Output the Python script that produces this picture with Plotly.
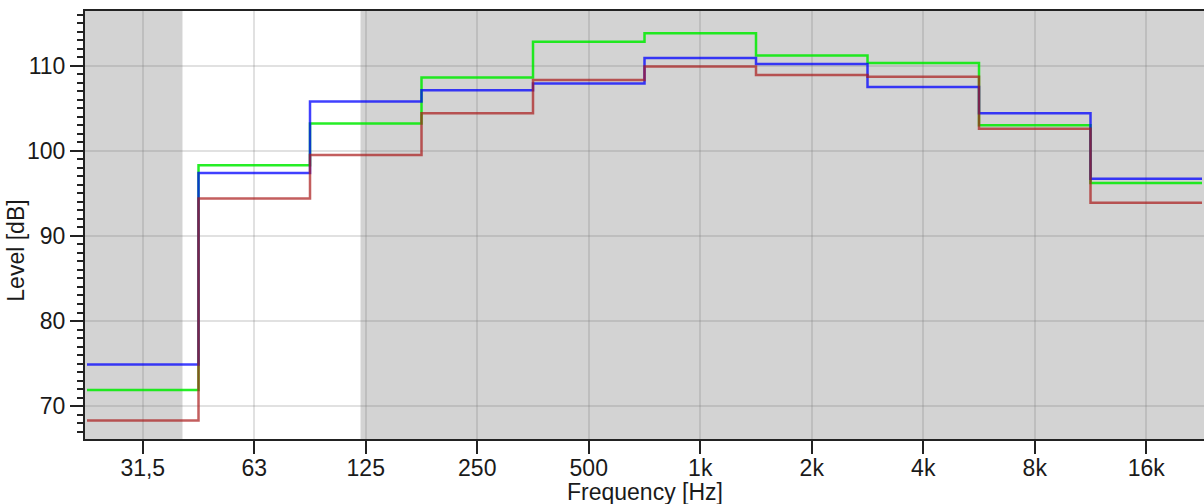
import math
import plotly.graph_objects as go

# Octave band centre frequencies (Hz) and tick labels
band_centres = [31.25, 62.5, 125, 250, 500, 1000, 2000, 4000, 8000, 16000]
tick_labels = ["31,5", "63", "125", "250", "500", "1k", "2k", "4k", "8k", "16k"]

# Levels per octave band (dB)
blue_levels = [74.9, 97.4, 105.8, 107.1, 107.9, 110.9, 110.2, 107.5, 104.4, 96.7]
green_levels = [71.9, 98.3, 103.2, 108.6, 112.8, 113.8, 111.2, 110.3, 103.0, 96.2]
red_levels = [68.3, 94.4, 99.5, 104.4, 108.3, 109.9, 108.9, 108.7, 102.6, 93.9]

# Frequency range shown unshaded (Hz)
white_band = [40, 121]

FONT = "Liberation Sans Narrow, Arial Narrow, Liberation Sans, Arial, sans-serif"

# band edges for step drawing
edges = [c / math.sqrt(2) for c in band_centres] + [band_centres[-1] * math.sqrt(2)]


def steps(vals):
    return vals + [vals[-1]]


fig = go.Figure()
series = [
    ("green", green_levels, "rgba(0,235,0,0.85)"),
    ("blue", blue_levels, "rgba(0,0,255,0.75)"),
    ("red", red_levels, "rgba(170,25,25,0.7)"),
]
for name, vals, col in series:
    fig.add_trace(go.Scatter(
        x=edges, y=steps(vals), mode="lines", name=name,
        line=dict(color=col, width=2.5, shape="hv"), showlegend=False,
    ))

xl = math.log10(31.25) - 0.518 * math.log10(2)
xr = xl + (1119 / 111.5) * math.log10(2)

fig.add_shape(type="rect", xref="x", yref="paper", x0=white_band[0], x1=white_band[1],
              y0=0, y1=1, fillcolor="white", line=dict(width=0), layer="below")

fig.update_layout(
    width=1204, height=504,
    margin=dict(l=85, r=0, t=11, b=65),
    paper_bgcolor="white", plot_bgcolor="#D3D3D3",
    font=dict(family=FONT, size=23, color="#1a1a1a"),
    xaxis=dict(
        type="log", range=[xl, xr],
        tickmode="array", tickvals=band_centres, ticktext=tick_labels,
        ticks="outside", ticklen=13, tickwidth=2, tickcolor="#222",
        ticklabelstandoff=-6,
        showline=True, linecolor="#222", linewidth=2, mirror=True,
        showgrid=True, gridcolor="rgba(120,120,120,0.22)", gridwidth=2,
        zeroline=False,
    ),
    yaxis=dict(
        range=[66.14, 116.42],
        tickmode="linear", tick0=70, dtick=10,
        ticks="outside", ticklen=13, tickwidth=2, tickcolor="#222",
        minor=dict(dtick=1, ticks="outside", ticklen=6, tickwidth=1.5, tickcolor="#222", showgrid=False),
        showline=True, linecolor="#222", linewidth=2,
        showgrid=True, gridcolor="rgba(120,120,120,0.22)", gridwidth=2,
        zeroline=False,
    ),
    annotations=[
        dict(text="Frequency [Hz]", xref="paper", yref="paper", x=0.5, y=0,
             yshift=-53, xanchor="center", yanchor="middle", showarrow=False,
             font=dict(family=FONT, size=23, color="#1a1a1a")),
        dict(text="Level [dB]", xref="paper", yref="paper", x=0, y=0.44,
             xshift=-69, xanchor="center", yanchor="middle", textangle=-90,
             showarrow=False, font=dict(family=FONT, size=23, color="#1a1a1a")),
    ],
)

fig.write_html("out.html")
